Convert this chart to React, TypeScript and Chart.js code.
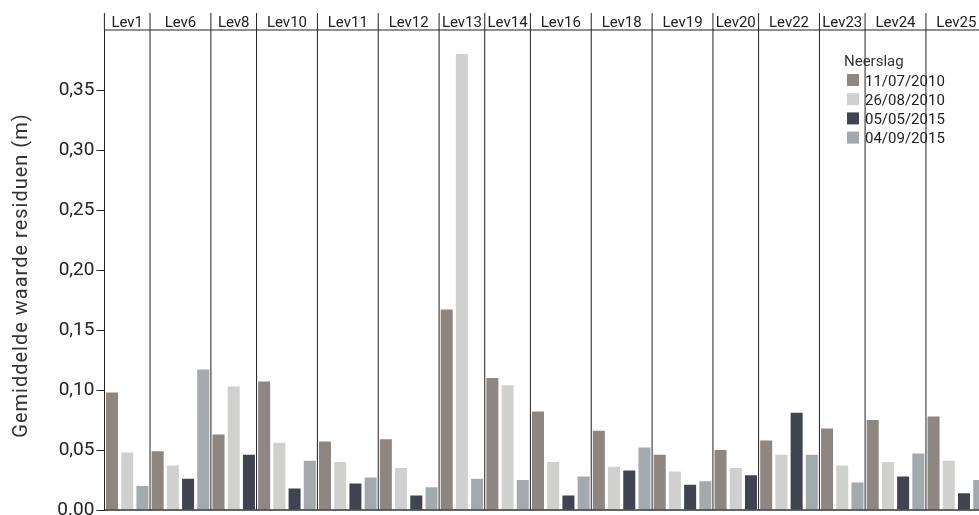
import React, { useEffect, useRef } from 'react';
import { Chart, registerables } from 'chart.js';

Chart.register(...registerables);

const levels = ['Lev1', 'Lev6', 'Lev8', 'Lev10', 'Lev11', 'Lev12', 'Lev13', 'Lev14', 'Lev16', 'Lev18', 'Lev19', 'Lev20', 'Lev22', 'Lev23', 'Lev24', 'Lev25'];
const seriesNames = ['11/07/2010', '26/08/2010', '05/05/2015', '04/09/2015'];
const rain20100711: (number | null)[] = [0.098, 0.049, 0.063, 0.107, 0.057, 0.059, 0.167, 0.110, 0.082, 0.066, 0.046, 0.050, 0.058, 0.068, 0.075, 0.078];
const rain20100826: (number | null)[] = [0.048, 0.037, 0.103, 0.056, 0.040, 0.035, 0.380, 0.104, 0.040, 0.036, 0.032, 0.035, 0.046, 0.037, 0.040, 0.041];
const rain20150505: (number | null)[] = [null, 0.026, 0.046, 0.018, 0.022, 0.012, null, null, 0.012, 0.033, 0.021, 0.029, 0.081, null, 0.028, 0.014];
const rain20150904: (number | null)[] = [0.020, 0.117, null, 0.041, 0.027, 0.019, 0.026, 0.025, 0.028, 0.052, 0.024, null, 0.046, 0.023, 0.047, 0.025];
const seriesColors = ['#8e8680', '#d0d0cf', '#3f4450', '#a2aaad'];
const legendTitle = 'Neerslag';
const yTitle = 'Gemiddelde waarde residuen (m)';

const FONT = 'Roboto, "DejaVu Sans", sans-serif';

export default function App() {
  const ref = useRef<HTMLCanvasElement>(null);

  useEffect(() => {
    if (!ref.current) return;
    const allSeries = [rain20100711, rain20100826, rain20150505, rain20150904];
    const slots: { lev: number; s: number; v: number }[] = [];
    levels.forEach((_, li) => {
      allSeries.forEach((arr, si) => {
        const v = arr[li];
        if (v !== null && v !== undefined) slots.push({ lev: li, s: si, v });
      });
    });
    const labels = slots.map((sl) => levels[sl.lev] + ' ' + seriesNames[sl.s]);
    const datasets = allSeries.map((_, si) => ({
      label: seriesNames[si],
      data: slots.map((sl) => (sl.s === si ? sl.v : null)),
      backgroundColor: seriesColors[si],
      borderWidth: 0,
      grouped: false,
      categoryPercentage: 1,
      barPercentage: 0.79,
    }));

    const groups: { start: number; end: number; lev: number }[] = [];
    slots.forEach((sl, i) => {
      const g = groups[groups.length - 1];
      if (g && g.lev === sl.lev) g.end = i;
      else groups.push({ start: i, end: i, lev: sl.lev });
    });

    const overlay = {
      id: 'overlay',
      afterDraw(chart: any) {
        const { ctx, chartArea, scales } = chart;
        const xs = scales.x;
        const half = (xs.getPixelForValue(1) - xs.getPixelForValue(0)) / 2;
        const left = chartArea.left;
        const bottom = chartArea.bottom;
        const top = chartArea.top;
        ctx.save();
        // y title
        ctx.save();
        ctx.translate(27, 275.5);
        ctx.rotate(-Math.PI / 2);
        ctx.font = '20px ' + FONT;
        (ctx as any).letterSpacing = '1px';
        ctx.fillStyle = '#333';
        ctx.textAlign = 'center';
        ctx.textBaseline = 'alphabetic';
        ctx.fillText(yTitle, 0, 0);
        ctx.restore();
        // legend
        ctx.font = '15px ' + FONT;
        ctx.fillStyle = '#333';
        ctx.textAlign = 'left';
        ctx.textBaseline = 'alphabetic';
        ctx.fillText(legendTitle, 844, 66);
        seriesNames.forEach((name, i) => {
          const y = 74 + i * 19.2;
          ctx.fillStyle = seriesColors[i];
          ctx.fillRect(847, y, 12, 12);
          ctx.fillStyle = '#222';
          ctx.fillText(name, 865, y + 11.5);
        });
        // frame lines
        ctx.strokeStyle = '#222';
        ctx.lineWidth = 1;
        ctx.beginPath();
        ctx.moveTo(left, top);
        ctx.lineTo(chart.width, top);
        ctx.moveTo(left, 13);
        ctx.lineTo(left, top);
        groups.forEach((g, gi) => {
          if (gi === groups.length - 1) return;
          const xb = xs.getPixelForValue(g.end) + half;
          ctx.moveTo(xb, 13);
          ctx.lineTo(xb, bottom);
        });
        ctx.stroke();
        ctx.lineWidth = 1.7;
        ctx.strokeStyle = '#333';
        ctx.beginPath();
        ctx.moveTo(left, bottom);
        ctx.lineTo(chart.width, bottom);
        ctx.stroke();
        // top labels
        ctx.font = '15px ' + FONT;
        ctx.fillStyle = '#222';
        ctx.textAlign = 'center';
        groups.forEach((g) => {
          const x0 = xs.getPixelForValue(g.start) - half;
          const x1 = xs.getPixelForValue(g.end) + half;
          ctx.fillText(levels[g.lev], (x0 + x1) / 2, 26.5);
        });
        ctx.restore();
      },
    };

    const chart = new Chart(ref.current, {
      type: 'bar',
      data: { labels, datasets: datasets as any },
      options: {
        animation: false,
        responsive: false,
        devicePixelRatio: 1,
        layout: { padding: { top: 30, right: 13.2, bottom: 30, left: 0 } },
        plugins: { legend: { display: false }, tooltip: { enabled: false } },
        scales: {
          x: { type: 'category', display: false, offset: true },
          y: {
            min: 0,
            max: 0.4,
            afterFit(scale: any) {
              scale.width = 104.4;
            },
            border: { display: true, color: '#222', width: 1 },
            grid: {
              display: true,
              drawOnChartArea: false,
              drawTicks: true,
              tickLength: 8,
              color: (c: any) => (c.tick && c.tick.value > 0.39 ? 'rgba(0,0,0,0)' : '#222'),
            },
            ticks: {
              stepSize: 0.05,
              padding: 2,
              color: '#222',
              font: { family: FONT, size: 19 },
              callback: (v: any) => {
                const n = Number(v);
                if (n === 0) return '0.00';
                if (n > 0.39) return '';
                return n.toFixed(2).replace('.', ',');
              },
            },
            title: { display: false },
          },
        },
      },
      plugins: [overlay],
    });
    return () => chart.destroy();
  }, []);

  return (
    <div style={{ position: 'absolute', left: 0, top: 0, width: 979, height: 515, overflow: 'hidden', background: '#fff' }}>
      <canvas ref={ref} width={1000} height={540} style={{ display: 'block' }} />
    </div>
  );
}
